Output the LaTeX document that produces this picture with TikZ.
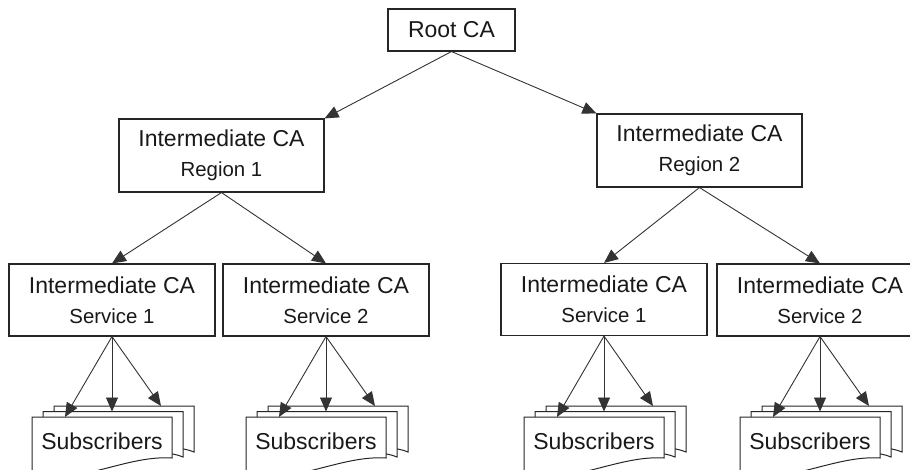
\documentclass[tikz,border=0pt]{standalone}
\usepackage{fontspec}
\setmainfont{Liberation Sans}
\usetikzlibrary{arrows.meta}
\newcommand\cafont{\fontsize{23}{30}\selectfont}
\newcommand\subfont{\fontsize{20.4}{30}\selectfont}
\begin{document}
\begin{tikzpicture}[x=1pt,y=-1pt,
  box/.style={draw=black!85, line width=1.1pt, fill=white, align=center,
    inner sep=0pt, font=\cafont, text=black!90},
  rootbox/.style={box, minimum width=127pt, minimum height=42pt},
  regionbox/.style={box, minimum width=205pt, minimum height=73pt},
  servicebox/.style={box, minimum width=206pt, minimum height=72pt},
  docpage/.style={draw=black!85, line width=1pt, fill=white},
  doclabel/.style={inner sep=0pt, font=\cafont, text=black!90},
  link/.style={draw=black!80, line width=0.9pt, -{Triangle[length=14pt,width=12pt]}}]

\useasboundingbox (0,0) rectangle (910,470);
\clip (0,0) rectangle (910,470);

% certificate authorities
\node[rootbox]   (root) at (451.5,30)   {Root CA};
\node[regionbox] (r1)   at (221.5,155.5) {Intermediate CA\\{\subfont Region 1}};
\node[regionbox] (r2)   at (699.5,150.5) {Intermediate CA\\{\subfont Region 2}};
\node[servicebox] (s1) at (112,300)   {Intermediate CA\\{\subfont Service 1}};
\node[servicebox] (s2) at (326,300)   {Intermediate CA\\{\subfont Service 2}};
\node[servicebox] (s3) at (604,299.5) {Intermediate CA\\{\subfont Service 1}};
\node[servicebox] (s4) at (820,300)   {Intermediate CA\\{\subfont Service 2}};

% hierarchy links
\draw[link] (root.south) -- (r1.north east);
\draw[link] (root.south) -- (r2.north west);
\draw[link] (r1.south) -- (s1.north);
\draw[link] (r1.south) -- (s2.north);
\draw[link] (r2.south) -- (s3.north);
\draw[link] (r2.south) -- (s4.north);

% stacks of subscriber documents, one under each service CA
\foreach \cx/\svc in {112/s1, 326/s2, 604/s3, 820/s4} {
  % rear pages: only their top and right edges show behind the front page
  \foreach \dl/\dt/\rb in {-58/406/452, -69/411.5/457} {
    \path[docpage] (\cx+\dl,\dt) -- (\cx+\dl+140,\dt) -- (\cx+\dl+140,\rb)
      .. controls (\cx+\dl+132,\rb-3) .. (\cx+\dl+110,\rb-5) -- (\cx+\dl,\rb-5) -- cycle;
  }
  % front page with a wavy lower edge
  \path[docpage] (\cx-80,417) -- (\cx+60,417) -- (\cx+60,458)
    .. controls (\cx+15,455) and (\cx-30,484) .. (\cx-80,476) -- cycle;
  \node[doclabel] (sub-\svc) at (\cx-10,441.7) {Subscribers};
  \coordinate (front-\svc) at (\cx-47,417);
  \coordinate (middle-\svc) at (\cx,411.5);
  \coordinate (back-\svc) at (\cx+49,406);
  \draw[link] (\svc.south) -- (front-\svc);
  \draw[link] (\svc.south) -- (middle-\svc);
  \draw[link] (\svc.south) -- (back-\svc);
}
\end{tikzpicture}
\end{document}
